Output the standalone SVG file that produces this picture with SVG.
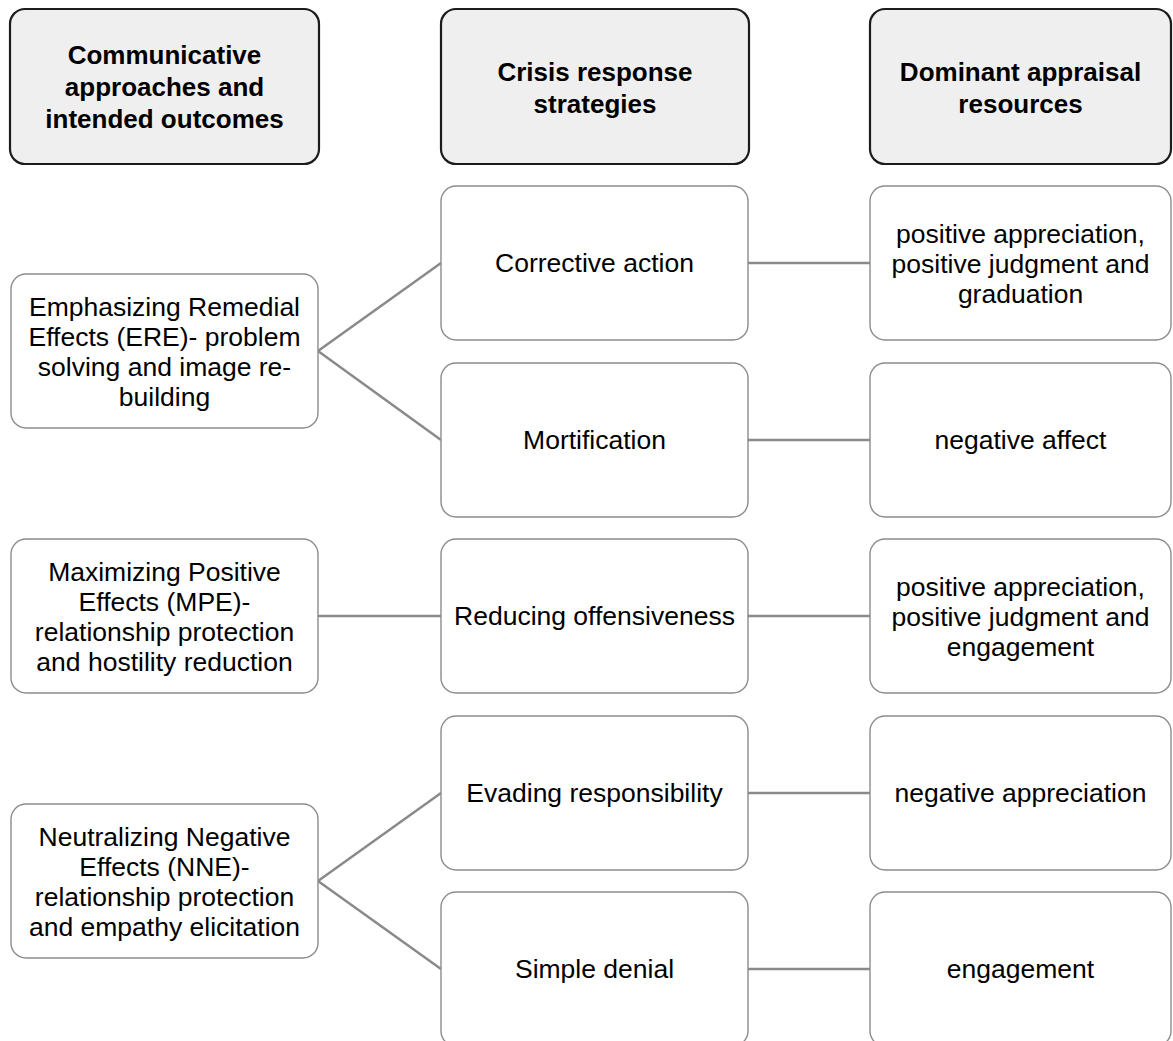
<svg xmlns="http://www.w3.org/2000/svg" width="1173" height="1041" viewBox="0 0 1173 1041">
<style>
.hdr{fill:#efefef;stroke:#1c1c1c;stroke-width:2.2}
.box{fill:#ffffff;stroke:#8c8c8c;stroke-width:1.4}
.ht{font-family:"Liberation Sans",Arial,sans-serif;font-weight:bold;font-size:26px;fill:#000;text-anchor:middle}
.bt{font-family:"Liberation Sans",Arial,sans-serif;font-size:26.5px;fill:#000;text-anchor:middle}
.con{stroke:#8a8a8a;stroke-width:2.5;fill:none}
</style>
<rect width="1173" height="1041" fill="#ffffff"/>
<g id="connectors">
<polyline class="con" points="441,263 318,351 441,440"/>
<line class="con" x1="318" y1="616" x2="441" y2="616"/>
<polyline class="con" points="441,793 318,881 441,969"/>
<line class="con" x1="748" y1="263" x2="870" y2="263"/>
<line class="con" x1="748" y1="440" x2="870" y2="440"/>
<line class="con" x1="748" y1="616" x2="870" y2="616"/>
<line class="con" x1="748" y1="793" x2="870" y2="793"/>
<line class="con" x1="748" y1="969" x2="870" y2="969"/>
</g>
<g id="h1"><rect class="hdr" x="10" y="9" width="309" height="155" rx="15"/>
<text class="ht" x="164.5" y="64">Communicative</text><text class="ht" x="164.5" y="96">approaches and</text><text class="ht" x="164.5" y="128">intended outcomes</text></g>
<g id="h2"><rect class="hdr" x="441" y="9" width="308" height="155" rx="15"/>
<text class="ht" x="595" y="81">Crisis response</text><text class="ht" x="595" y="113">strategies</text></g>
<g id="h3"><rect class="hdr" x="870" y="9" width="301" height="155" rx="15"/>
<text class="ht" x="1020.5" y="81">Dominant appraisal</text><text class="ht" x="1020.5" y="113">resources</text></g>

<g id="ere"><rect class="box" x="11" y="274" width="307" height="154" rx="15"/>
<text class="bt" x="164.5" y="316">Emphasizing Remedial</text><text class="bt" x="164.5" y="346">Effects (ERE)- problem</text><text class="bt" x="164.5" y="376">solving and image re-</text><text class="bt" x="164.5" y="406">building</text></g>
<g id="mpe"><rect class="box" x="11" y="539" width="307" height="154" rx="15"/>
<text class="bt" x="164.5" y="581">Maximizing Positive</text><text class="bt" x="164.5" y="611">Effects (MPE)-</text><text class="bt" x="164.5" y="641">relationship protection</text><text class="bt" x="164.5" y="671">and hostility reduction</text></g>
<g id="nne"><rect class="box" x="11" y="804" width="307" height="154" rx="15"/>
<text class="bt" x="164.5" y="846">Neutralizing Negative</text><text class="bt" x="164.5" y="876">Effects (NNE)-</text><text class="bt" x="164.5" y="906">relationship protection</text><text class="bt" x="164.5" y="936">and empathy elicitation</text></g>

<g id="s1"><rect class="box" x="441" y="186" width="307" height="154" rx="15"/><text class="bt" x="594.5" y="272">Corrective action</text></g>
<g id="s2"><rect class="box" x="441" y="363" width="307" height="154" rx="15"/><text class="bt" x="594.5" y="449">Mortification</text></g>
<g id="s3"><rect class="box" x="441" y="539" width="307" height="154" rx="15"/><text class="bt" x="594.5" y="625">Reducing offensiveness</text></g>
<g id="s4"><rect class="box" x="441" y="716" width="307" height="154" rx="15"/><text class="bt" x="594.5" y="802">Evading responsibility</text></g>
<g id="s5"><rect class="box" x="441" y="892" width="307" height="154" rx="15"/><text class="bt" x="594.5" y="978">Simple denial</text></g>

<g id="r1"><rect class="box" x="870" y="186" width="301" height="154" rx="15"/>
<text class="bt" x="1020.5" y="243">positive appreciation,</text><text class="bt" x="1020.5" y="273">positive judgment and</text><text class="bt" x="1020.5" y="303">graduation</text></g>
<g id="r2"><rect class="box" x="870" y="363" width="301" height="154" rx="15"/><text class="bt" x="1020.5" y="449">negative affect</text></g>
<g id="r3"><rect class="box" x="870" y="539" width="301" height="154" rx="15"/>
<text class="bt" x="1020.5" y="596">positive appreciation,</text><text class="bt" x="1020.5" y="626">positive judgment and</text><text class="bt" x="1020.5" y="656">engagement</text></g>
<g id="r4"><rect class="box" x="870" y="716" width="301" height="154" rx="15"/><text class="bt" x="1020.5" y="802">negative appreciation</text></g>
<g id="r5"><rect class="box" x="870" y="892" width="301" height="154" rx="15"/><text class="bt" x="1020.5" y="978">engagement</text></g>
</svg>
